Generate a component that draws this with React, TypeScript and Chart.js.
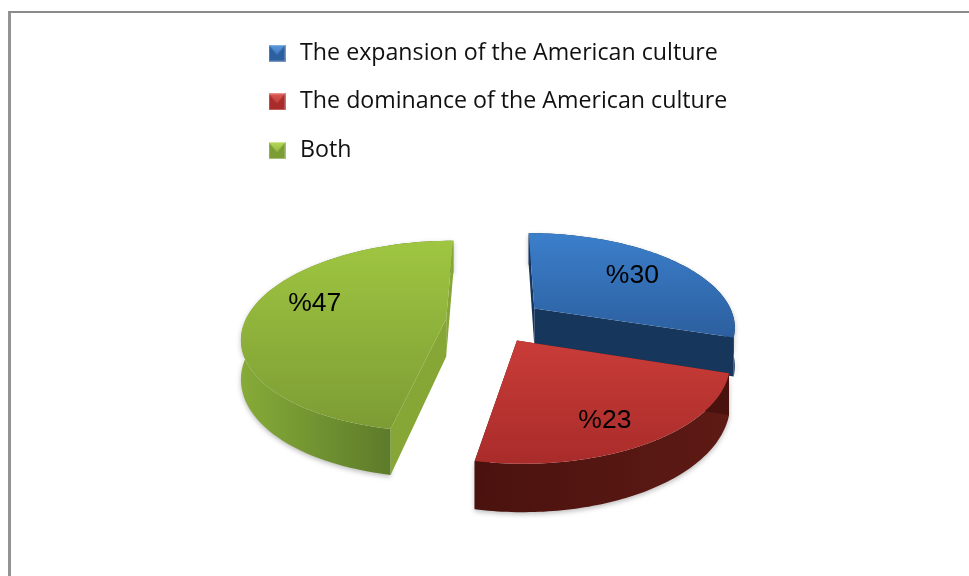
import React, { useEffect, useRef } from "react";
import { Chart, registerables } from "chart.js";

Chart.register(...registerables);

const categories = [
  "The expansion of the American culture",
  "The dominance of the American culture",
  "Both",
];
const shares = [30, 23, 47];

// Face colours per slice: top surface [far, near], outer wall [left, right], side wall
const topColors = [
  ["#3B7FCB", "#2C5F9F"],
  ["#C93C38", "#A92C2A"],
  ["#9FC641", "#7C9C34"],
];
const wallColors = [
  ["#1A3A63", "#16345A"],
  ["#4A120E", "#5E1A15"],
  ["#86AB38", "#4C6724"],
];
const sideColors = ["#17365C", "#4A120E", "#86A636"];
const swatchColors = [
  ["#2C5F9F", "#5C9BE0"],
  ["#A92C2A", "#DD5A55"],
  ["#7C9C34", "#B7DB5A"],
];

// Projection of the tilted pie onto the canvas
const CENTER_X = 497;
const CENTER_Y = 321;
const RADIUS_X = 201;
const RADIUS_Y = 93;
const PERSPECTIVE = 0.18;
const THICKNESS = 38;
const EXPLODE = 0.235;
const LABEL_RADIUS = 0.7;
const SLICE_NUDGE_X = [0, -5, -4];
const LABEL_NUDGE_X = [-3, -4, 2];
const LABEL_NUDGE_Y = [1, 12, -9];
const DRAW_ORDER = [0, 2, 1];
const LEGEND_DROP = 16;

type Pt = { x: number; y: number; d: number };

function project(theta: number, r: number, mid: number): Pt {
  const u = r * Math.sin(theta) + EXPLODE * Math.sin(mid);
  const v = -r * Math.cos(theta) - EXPLODE * Math.cos(mid);
  const w = 1 - PERSPECTIVE * v;
  return {
    x: CENTER_X + (RADIUS_X * u) / w,
    y: CENTER_Y + (RADIUS_Y * v) / w,
    d: THICKNESS / w,
  };
}

function quad(ctx: CanvasRenderingContext2D, pts: Pt[], fill: string | CanvasGradient) {
  ctx.beginPath();
  pts.forEach((p, i) => (i ? ctx.lineTo(p.x, p.y) : ctx.moveTo(p.x, p.y)));
  for (let i = pts.length - 1; i >= 0; i--) ctx.lineTo(pts[i].x, pts[i].y + pts[i].d);
  ctx.closePath();
  ctx.fillStyle = fill;
  ctx.fill();
}

// Draws the pie's arc elements as extruded slices in perspective
const extrudedPie = {
  id: "extrudedPie",
  afterLayout(chart: any) {
    chart.legend.top += LEGEND_DROP;
    chart.legend.bottom += LEGEND_DROP;
  },
  beforeDatasetsDraw(chart: Chart) {
    const ctx = chart.ctx;
    const arcs = chart.getDatasetMeta(0).data as any[];
    for (const i of DRAW_ORDER) {
      const { startAngle, endAngle } = arcs[i].getProps(["startAngle", "endAngle"], true);
      const a0 = startAngle + Math.PI / 2;
      const a1 = endAngle + Math.PI / 2;
      const mid = (a0 + a1) / 2;
      const rim: Pt[] = [];
      const steps = 80;
      for (let s = 0; s <= steps; s++) rim.push(project(a0 + ((a1 - a0) * s) / steps, 1, mid));
      const apex = project(0, 0, mid);
      const xs = rim.map((p) => p.x).concat(apex.x);
      const ys = rim.map((p) => p.y).concat(apex.y);
      const minX = Math.min(...xs);
      const maxX = Math.max(...xs);
      const minY = Math.min(...ys);
      const maxY = Math.max(...ys);

      ctx.save();
      ctx.translate(SLICE_NUDGE_X[i], 0);

      ctx.save();
      ctx.shadowColor = "rgba(60,60,60,0.35)";
      ctx.shadowBlur = 5;
      ctx.shadowOffsetY = 2;
      const wall = ctx.createLinearGradient(minX, 0, maxX, 0);
      wall.addColorStop(0, wallColors[i][0]);
      wall.addColorStop(1, wallColors[i][1]);
      quad(ctx, rim, wall);
      ctx.restore();

      quad(ctx, [apex, rim[0]], sideColors[i]);
      quad(ctx, [apex, rim[rim.length - 1]], sideColors[i]);

      const top = ctx.createLinearGradient(0, minY, 0, maxY);
      top.addColorStop(0, topColors[i][0]);
      top.addColorStop(1, topColors[i][1]);
      ctx.beginPath();
      ctx.moveTo(apex.x, apex.y);
      rim.forEach((p) => ctx.lineTo(p.x, p.y));
      ctx.closePath();
      ctx.fillStyle = top;
      ctx.fill();
      ctx.restore();
    }

    ctx.fillStyle = "#000";
    ctx.font = '26.5px "Liberation Sans"';
    ctx.textAlign = "center";
    ctx.textBaseline = "middle";
    arcs.forEach((arc, i) => {
      const { startAngle, endAngle } = arc.getProps(["startAngle", "endAngle"], true);
      const mid = (startAngle + endAngle) / 2 + Math.PI / 2;
      const p = project(mid, LABEL_RADIUS, mid);
      ctx.fillText(`%${shares[i]}`, p.x + LABEL_NUDGE_X[i], p.y + LABEL_NUDGE_Y[i]);
    });
    return false;
  },
};

function makeSwatch(colors: string[]) {
  const size = 17;
  const c = document.createElement("canvas");
  c.width = size;
  c.height = size;
  const g = c.getContext("2d")!;
  g.fillStyle = colors[0];
  g.fillRect(0, 0, size, size);
  const shine = g.createLinearGradient(0, 0, 0, size);
  shine.addColorStop(0, colors[1]);
  shine.addColorStop(1, colors[0]);
  g.fillStyle = shine;
  g.beginPath();
  g.moveTo(0, 0);
  g.lineTo(size, 0);
  g.lineTo(size / 2, size * 0.6);
  g.closePath();
  g.fill();
  g.strokeStyle = "rgba(255,255,255,0.35)";
  g.strokeRect(0.5, 0.5, size - 1, size - 1);
  return c;
}

export default function App() {
  const ref = useRef<HTMLCanvasElement>(null);
  useEffect(() => {
    document.body.style.margin = "0";
    const swatches = swatchColors.map(makeSwatch);
    const chart = new Chart(ref.current!, {
      type: "pie",
      data: {
        labels: categories,
        datasets: [{ data: shares, backgroundColor: topColors.map((c) => c[0]), borderWidth: 0 }],
      },
      plugins: [extrudedPie],
      options: {
        animation: false,
        responsive: false,
        layout: { padding: { left: 240, right: 0, top: 0, bottom: 0 } },
        plugins: {
          tooltip: { enabled: false },
          legend: {
            position: "chartArea" as any,
            align: "start",
            labels: {
              usePointStyle: true,
              boxHeight: 17,
              pointStyleWidth: 23,
              padding: 25.5,
              color: "#111",
              font: { family: '"Open Sans"', size: 23.2 },
              generateLabels: () =>
                categories.map((text, i) => ({
                  text,
                  pointStyle: swatches[i],
                  fontColor: "#111",
                  lineWidth: 0,
                  index: i,
                  hidden: false,
                })),
            },
          },
        },
      },
    });
    return () => chart.destroy();
  }, []);
  return (
    <div style={{ position: "relative", width: 969, height: 576, overflow: "hidden", background: "#fff" }}>
      <div
        style={{
          position: "absolute",
          left: 8,
          top: 11,
          right: 0,
          bottom: 0,
          borderLeft: "3px solid #939393",
          borderTop: "2px solid #8a8a8a",
        }}
      />
      <canvas ref={ref} width={969} height={576} style={{ position: "absolute", left: 0, top: 0 }} />
    </div>
  );
}
